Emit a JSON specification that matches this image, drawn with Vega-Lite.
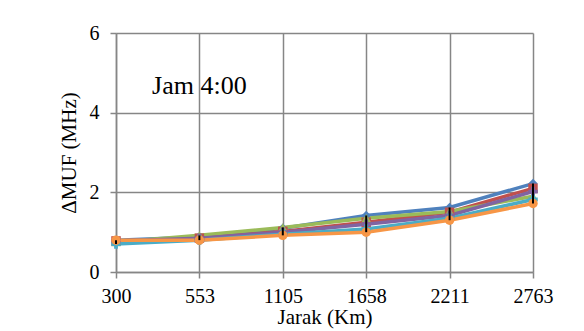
{
  "$schema": "https://vega.github.io/schema/vega-lite/v6.json",
  "width": 417,
  "height": 239,
  "autosize": "none",
  "padding": {"left": 116, "top": 33, "right": 51, "bottom": 59},
  "background": "white",
  "config": {
    "view": {"stroke": null},
    "font": "Liberation Serif",
    "axis": {
      "labelFont": "Liberation Serif",
      "titleFont": "Liberation Serif",
      "labelFontSize": 20,
      "titleFontSize": 21,
      "titleFontWeight": "normal",
      "labelColor": "black",
      "titleColor": "black",
      "gridColor": "#868686",
      "gridWidth": 1.5,
      "domainColor": "#868686",
      "domainWidth": 1.5,
      "tickColor": "#868686",
      "tickWidth": 1.5,
      "tickSize": 6
    }
  },
  "data": {
    "values": [
      {"jarak": "300", "series": "S1", "muf": 0.80},
      {"jarak": "553", "series": "S1", "muf": 0.88},
      {"jarak": "1105", "series": "S1", "muf": 1.10},
      {"jarak": "1658", "series": "S1", "muf": 1.42},
      {"jarak": "2211", "series": "S1", "muf": 1.62},
      {"jarak": "2763", "series": "S1", "muf": 2.22},
      {"jarak": "300", "series": "S2", "muf": 0.78},
      {"jarak": "553", "series": "S2", "muf": 0.85},
      {"jarak": "1105", "series": "S2", "muf": 1.02},
      {"jarak": "1658", "series": "S2", "muf": 1.25},
      {"jarak": "2211", "series": "S2", "muf": 1.50},
      {"jarak": "2763", "series": "S2", "muf": 2.10},
      {"jarak": "300", "series": "S3", "muf": 0.75},
      {"jarak": "553", "series": "S3", "muf": 0.92},
      {"jarak": "1105", "series": "S3", "muf": 1.12},
      {"jarak": "1658", "series": "S3", "muf": 1.35},
      {"jarak": "2211", "series": "S3", "muf": 1.52},
      {"jarak": "2763", "series": "S3", "muf": 1.90},
      {"jarak": "300", "series": "S4", "muf": 0.78},
      {"jarak": "553", "series": "S4", "muf": 0.85},
      {"jarak": "1105", "series": "S4", "muf": 1.00},
      {"jarak": "1658", "series": "S4", "muf": 1.20},
      {"jarak": "2211", "series": "S4", "muf": 1.42},
      {"jarak": "2763", "series": "S4", "muf": 2.02},
      {"jarak": "300", "series": "S5", "muf": 0.70},
      {"jarak": "553", "series": "S5", "muf": 0.80},
      {"jarak": "1105", "series": "S5", "muf": 0.95},
      {"jarak": "1658", "series": "S5", "muf": 1.08},
      {"jarak": "2211", "series": "S5", "muf": 1.35},
      {"jarak": "2763", "series": "S5", "muf": 1.82},
      {"jarak": "300", "series": "S6", "muf": 0.80},
      {"jarak": "553", "series": "S6", "muf": 0.80},
      {"jarak": "1105", "series": "S6", "muf": 0.92},
      {"jarak": "1658", "series": "S6", "muf": 1.00},
      {"jarak": "2211", "series": "S6", "muf": 1.30},
      {"jarak": "2763", "series": "S6", "muf": 1.72}
    ]
  },
  "encoding": {
    "x": {
      "field": "jarak",
      "type": "ordinal",
      "sort": ["300", "553", "1105", "1658", "2211", "2763"],
      "scale": {"type": "point", "padding": 0},
      "axis": {"title": "Jarak (Km)", "labelAngle": 0, "grid": true, "labelPadding": 8, "titlePadding": 0}
    }
  },
  "layer": [
    {
      "mark": {"type": "line", "strokeWidth": 3.5},
      "encoding": {
        "y": {
          "field": "muf",
          "type": "quantitative",
          "scale": {"domain": [0, 6]},
          "axis": {"title": "ΔMUF (MHz)", "values": [0, 2, 4, 6], "grid": true, "labelPadding": 11, "titlePadding": 10}
        },
        "color": {
          "field": "series",
          "type": "nominal",
          "scale": {"domain": ["S1", "S2", "S3", "S4", "S5", "S6"], "range": ["#4F81BD", "#C0504D", "#9BBB59", "#8064A2", "#4BACC6", "#F79646"]},
          "legend": null
        },
        "order": {"field": "series", "sort": "descending"}
      }
    },
    {
      "mark": {"type": "point", "filled": true, "opacity": 1},
      "encoding": {
        "y": {"field": "muf", "type": "quantitative"},
        "color": {"field": "series", "type": "nominal", "legend": null},
        "shape": {
          "field": "series",
          "type": "nominal",
          "scale": {"domain": ["S1", "S2", "S3", "S4", "S5", "S6"], "range": ["diamond", "square", "triangle-up", "cross", "cross", "circle"]},
          "legend": null
        },
        "size": {"value": 90}
      }
    },
    {
      "mark": {"type": "rule", "color": "black", "strokeWidth": 2},
      "encoding": {
        "y": {"field": "muf", "aggregate": "min", "type": "quantitative"},
        "y2": {"field": "muf", "aggregate": "max"}
      }
    },
    {
      "data": {"values": [{"jarak": "553", "muf": 4.67, "label": "Jam 4:00"}]},
      "mark": {"type": "text", "fontSize": 26, "font": "Liberation Serif", "align": "center", "baseline": "middle", "color": "black"},
      "encoding": {
        "y": {"field": "muf", "type": "quantitative"},
        "text": {"field": "label"}
      }
    }
  ]
}
